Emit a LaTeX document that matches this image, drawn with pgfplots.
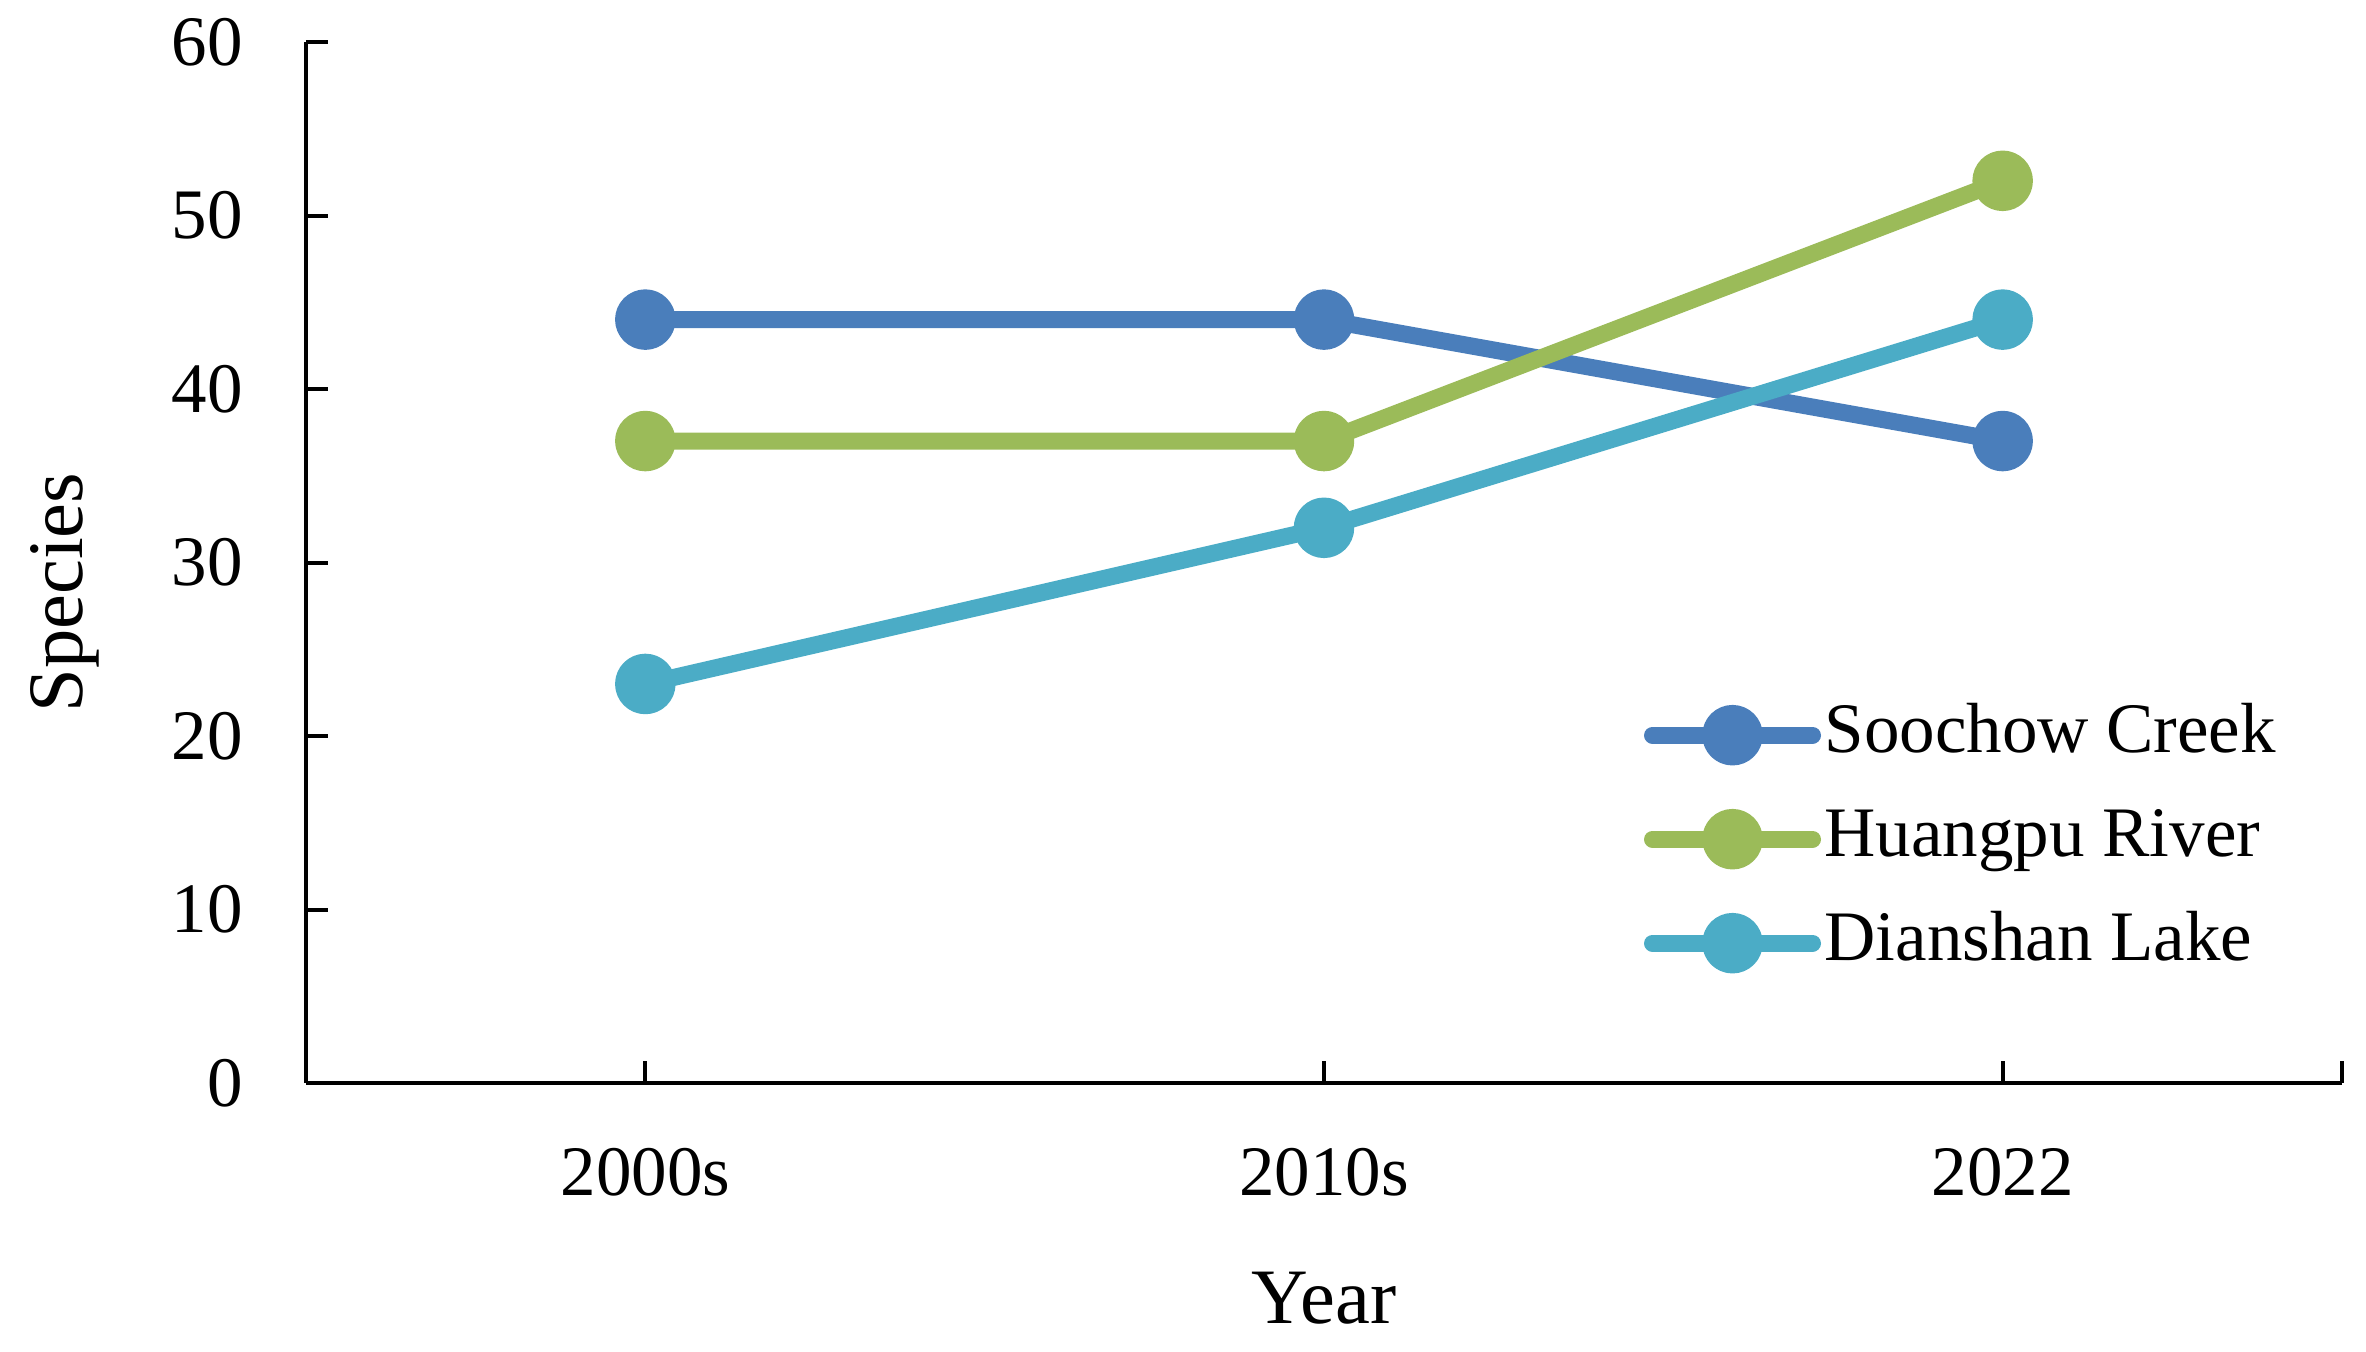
\documentclass[border=0pt]{standalone}
\usepackage{fontspec}
\setmainfont{Liberation Serif}
\usepackage{pgfplots}
\pgfplotsset{compat=1.18}
\definecolor{cBlue}{HTML}{4A7EBB}
\definecolor{cGreen}{HTML}{9BBB59}
\definecolor{cCyan}{HTML}{4BACC6}
\begin{document}
\begin{tikzpicture}
\begin{axis}[
  scale only axis,
  width=407.2bp, height=208.2bp,
  at={(0,0)}, anchor=south west,
  xmin=-0.5, xmax=2.5, ymin=0, ymax=60,
  axis lines*=left,
  axis line style={line width=0.8bp, black},
  major tick style={line width=0.8bp, black},
  tick align=inside,
  major tick length=4.4bp,
  xtick={0,1,2,2.5},
  xticklabels={2000s,2010s,2022,},
  ytick={0,10,...,60},
  /pgf/number format/assume math mode=true,
  tick label style={font=\fontsize{14.2bp}{17bp}\selectfont, inner sep=0pt},
  xticklabel style={anchor=north, yshift=-12.8bp},
  yticklabel style={anchor=east, xshift=-12.4bp},
  xlabel={Year}, ylabel={Species},
  label style={font=\fontsize{15.7bp}{19bp}\selectfont},
  xlabel style={at={(axis description cs:0.5,-0.2065)}, anchor=center},
  ylabel style={at={(axis description cs:-0.1185,0.471)}, anchor=center, rotate=0},
  every axis plot/.append style={line width=3.4bp, line cap=round, line join=round, mark=*, mark size=4.35bp, mark options={solid}},
  legend image code/.code={\draw[mark repeat=2, mark phase=2, #1] plot coordinates {(0bp,0bp) (16bp,0bp) (32bp,0bp)};},
  legend cell align=left,
  legend style={draw=none, fill=none, inner sep=0pt, row sep=5.4bp,
    at={(axis description cs:0.6567,0.2342)}, anchor=west,
    font=\fontsize{14.2bp}{17bp}\selectfont,
    nodes={inner ysep=1.2bp, inner xsep=0.7bp, text height=10bp, text depth=3bp}},
  clip=false,
]
\addplot[color=cBlue, mark options={fill=cBlue, draw=cBlue}] coordinates {(0,44) (1,44) (2,37)};
\addlegendentry{Soochow Creek}
\addplot[color=cGreen, mark options={fill=cGreen, draw=cGreen}] coordinates {(0,37) (1,37) (2,52)};
\addlegendentry{Huangpu River}
\addplot[color=cCyan, mark options={fill=cCyan, draw=cCyan}] coordinates {(0,23) (1,32) (2,44)};
\addlegendentry{Dianshan Lake}
\end{axis}
\pgfresetboundingbox
\path[use as bounding box] (-61.2bp,-53.8bp) rectangle (412bp,216.6bp);
\end{tikzpicture}
\end{document}
